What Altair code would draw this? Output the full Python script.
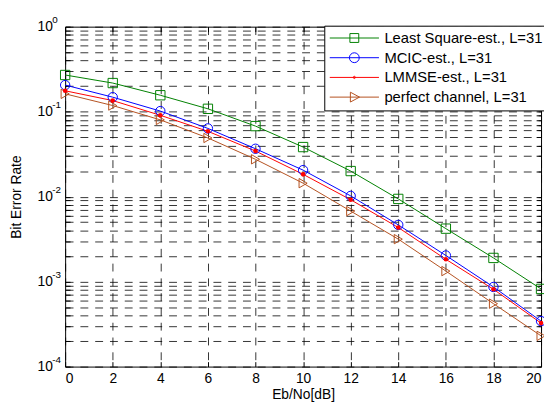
import altair as alt
import pandas as pd

snr = [0, 2, 4, 6, 8, 10, 12, 14, 16, 18, 20]
series_names = ["Least Square-est., L=31", "MCIC-est., L=31", "LMMSE-est., L=31", "perfect channel, L=31"]
ls_ber = [0.27, 0.217, 0.156, 0.108, 0.0676, 0.0383, 0.020, 0.0094, 0.0042, 0.0019, 0.00082]
mcic_ber = [0.2055, 0.148, 0.1016, 0.0635, 0.0366, 0.0205, 0.0102, 0.00465, 0.00203, 0.000865, 0.000343]
lmmse_ber = [0.176, 0.135, 0.0906, 0.0587, 0.0344, 0.0183, 0.0092, 0.00433, 0.00183, 0.000813, 0.000325]
perfect_ber = [0.162, 0.118, 0.080, 0.049, 0.0275, 0.0144, 0.00676, 0.00316, 0.00133, 0.00055, 0.00023]
colors = ["#008000", "#0000FF", "#FF0000", "#B4501E"]
x_ticks = [0, 2, 4, 6, 8, 10, 12, 14, 16, 18, 20]
y_ticks = [m * 10.0 ** k for k in range(-4, 0) for m in range(1, 10)] + [1.0]
decades = [1e-4, 1e-3, 1e-2, 1e-1, 1.0]
exponents = ["-4", "-3", "-2", "-1", "0"]

rows = []
for name, vals in zip(series_names, [ls_ber, mcic_ber, lmmse_ber, perfect_ber]):
    for x, y in zip(snr, vals):
        rows.append({"series": name, "snr": x, "ber": y})
df = pd.DataFrame(rows)
exp_df = pd.DataFrame({"ber": decades, "exp": exponents})

FONT = "Liberation Sans"
IN_TICK = {"expr": "-5"}

xscale = alt.Scale(domain=[0, 20], nice=False)
yscale = alt.Scale(type="log", domain=[1e-4, 1], nice=False)

xenc = alt.X("snr:Q", scale=xscale,
             axis=alt.Axis(values=x_ticks, format="d", title="Eb/No[dB]", grid=True,
                           gridColor="black", gridDash=[8, 7], gridWidth=0.8,
                           ticks=True, tickSize=IN_TICK, tickColor="black", tickWidth=1,
                           domain=False, labelFontSize=14, labelPadding=10,
                           titleFontSize=14, titleFontWeight="normal", titlePadding=2,
                           labelFont=FONT, titleFont=FONT, labelColor="black", titleColor="black"))

label_expr = "abs(log(datum.value)/LN10 - round(log(datum.value)/LN10)) > 0.001 ? '' : '10'"

yenc = alt.Y("ber:Q", scale=yscale,
             axis=alt.Axis(values=y_ticks, labelExpr=label_expr, title="Bit Error Rate", grid=True,
                           gridColor="black", gridDash=[8, 7], gridWidth=0.8,
                           ticks=True, tickSize=IN_TICK, tickColor="black", tickWidth=1,
                           domain=False, labelFontSize=14, labelPadding=18,
                           labelBaseline="middle",
                           titleFontSize=14, titleFontWeight="normal", titlePadding=14,
                           labelFont=FONT, titleFont=FONT, labelColor="black", titleColor="black"))

x_plain = alt.X("snr:Q", scale=xscale, axis=None)
y_plain = alt.Y("ber:Q", scale=yscale, axis=None)

cscale = alt.Scale(domain=series_names, range=colors)

lines = alt.Chart(df).mark_line(strokeWidth=1).encode(
    x=xenc, y=yenc,
    color=alt.Color("series:N", scale=cscale, legend=None),
    detail="series:N",
)

hollow = alt.Chart(df).transform_filter(
    alt.datum.series != series_names[2]
).mark_point(filled=False, strokeWidth=1, size=90, opacity=1).encode(
    x=x_plain, y=y_plain,
    color=alt.Color("series:N", scale=cscale, legend=None),
    shape=alt.Shape("series:N", scale=alt.Scale(domain=series_names,
                                                 range=["square", "circle", "circle", "triangle-right"]),
                    legend=None),
)

dots = alt.Chart(df).transform_filter(
    alt.datum.series == series_names[2]
).mark_point(filled=True, size=22, opacity=1).encode(
    x=x_plain, y=y_plain,
    color=alt.Color("series:N", scale=cscale, legend=None),
)

exp_text = alt.Chart(exp_df).mark_text(
    align="left", baseline="middle", fontSize=10, font=FONT, color="black", dy=-7
).encode(
    x=alt.value(-13),
    y=y_plain,
    text="exp:N",
)

frame_ticks = alt.Chart(df).transform_filter("false").mark_point(opacity=0).encode(
    x=alt.X("snr:Q", scale=xscale,
            axis=alt.Axis(orient="top", values=x_ticks, labels=False, title=None, grid=False,
                          domain=False, ticks=True, tickSize=IN_TICK, tickColor="black", tickWidth=1)),
    y=alt.Y("ber:Q", scale=yscale,
            axis=alt.Axis(orient="right", values=y_ticks, labels=False, title=None, grid=False,
                          domain=False, ticks=True, tickSize=IN_TICK, tickColor="black", tickWidth=1)),
)

legend_paths = [
    "M-1,0H1M-0.18,-0.18H0.18V0.18H-0.18Z",
    "M-1,0H1M0.2,0A0.2,0.2,0,1,1,-0.2,0A0.2,0.2,0,1,1,0.2,0Z",
    "M-1,0H1M0.045,0A0.045,0.045,0,1,1,-0.045,0A0.045,0.045,0,1,1,0.045,0Z",
    "M-1,0H1M-0.16,-0.2L0.21,0L-0.16,0.2Z",
]

legend_layer = alt.Chart(df).transform_filter("false").mark_point(filled=False, opacity=1).encode(
    x=x_plain, y=y_plain,
    color=alt.Color("series:N", scale=cscale,
                    legend=alt.Legend(title=None, orient="none", legendX=263, legendY=-1,
                                      padding=5, rowPadding=4, clipHeight=15,
                                      symbolSize=2500, symbolStrokeWidth=1, labelOffset=5,
                                      labelFontSize=15, labelFont=FONT, labelColor="black",
                                      strokeColor="black", fillColor="white",
                                      labelLimit=300)),
    shape=alt.Shape("series:N", scale=alt.Scale(domain=series_names, range=legend_paths)),
)

chart = alt.layer(lines, hollow, dots, exp_text, frame_ticks, legend_layer).resolve_scale(
    color="independent", shape="independent"
).resolve_axis(
    x="independent", y="independent"
).properties(
    width=483, height=345,
    autosize=alt.AutoSizeParams(type="none"),
    padding={"left": 58, "top": 16, "right": 3, "bottom": 34},
    background="white",
).configure_view(stroke="black", strokeWidth=1)

chart.save("out.html", embed_options={"renderer": "svg", "actions": False})
